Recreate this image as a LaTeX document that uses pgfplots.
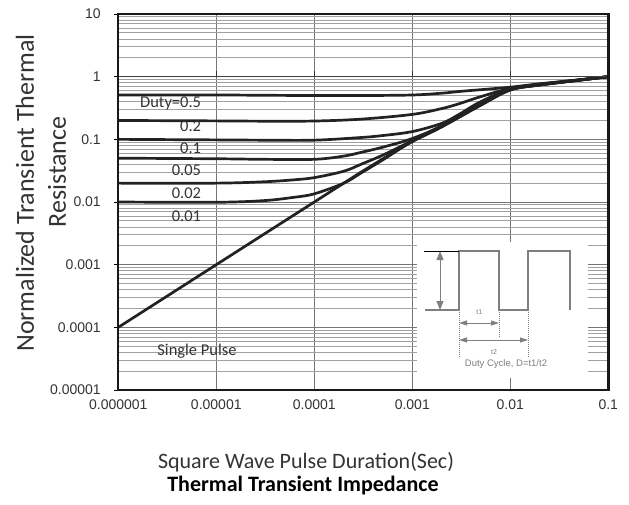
\documentclass[border=0pt]{standalone}
\usepackage{pgfplots}
\pgfplotsset{compat=1.18}
\usepackage{fontspec}
\setmainfont{Carlito}
\newfontfamily\arialf{Liberation Sans}
\usetikzlibrary{arrows.meta}
\definecolor{txt}{HTML}{333333}
\definecolor{curve}{HTML}{222222}
\definecolor{gmaj}{HTML}{767676}
\definecolor{gmin}{HTML}{A0A0A0}
\definecolor{wave}{HTML}{7F7F7F}
\pgfplotsset{curv/.style={color=curve, mark=none, line width=2.7pt, smooth, tension=0.55, line join=round}}
\begin{document}
\begin{tikzpicture}
\useasboundingbox (-118.3pt,-114pt) rectangle (510.7pt,390pt);
\begin{axis}[
  at={(0,0)}, anchor=south west, scale only axis,
  width=490pt, height=376pt,
  xmode=log, ymode=log,
  xmin=1e-6, xmax=0.1, ymin=1e-5, ymax=10,
  xtick={1e-6,1e-5,1e-4,1e-3,1e-2,1e-1},
  xticklabels={0.000001,0.00001,0.0001,0.001,0.01,0.1},
  ytick={1e-5,1e-4,1e-3,1e-2,1e-1,1,10},
  yticklabels={0.00001,0.0001,0.001,0.01,0.1,1,10},
  minor ytick={2e-5,3e-5,4e-5,5e-5,6e-5,7e-5,8e-5,9e-5,
               2e-4,3e-4,4e-4,5e-4,6e-4,7e-4,8e-4,9e-4,
               2e-3,3e-3,4e-3,5e-3,6e-3,7e-3,8e-3,9e-3,
               2e-2,3e-2,4e-2,5e-2,6e-2,7e-2,8e-2,9e-2,
               0.2,0.3,0.4,0.5,0.6,0.7,0.8,0.9,
               2,3,4,5,6,7,8,9},
  xmajorgrids, ymajorgrids, yminorgrids, xminorgrids=false,
  major grid style={color=gmaj, line width=0.9pt},
  minor grid style={color=gmin, line width=0.8pt},
  xtick style={draw=none},
  minor tick length=0pt,
  ytick pos=left,
  ytick style={color=black, line width=0.8pt},
  tick align=outside, major tick length=4pt,
  axis line style={draw=none},
  /pgf/number format/assume math mode=true,
  ticklabel style={font=\arialf\fontsize{14}{14}\selectfont, text=txt},
  xticklabel style={yshift=-2pt},
  yticklabel style={xshift=-10pt},
  clip=true,
]
% Duty = 0.5
\addplot[curv] coordinates {(1e-6,0.51) (1e-5,0.51) (3e-5,0.505) (1e-4,0.50) (3e-4,0.50) (1e-3,0.51) (2e-3,0.545) (3e-3,0.58) (5e-3,0.62) (1e-2,0.68) (2e-2,0.77) (5e-2,0.89) (1e-1,1.0)};
% Duty = 0.2
\addplot[curv] coordinates {(1e-6,0.20) (1e-5,0.197) (3e-5,0.195) (1e-4,0.196) (3e-4,0.21) (1e-3,0.25) (2e-3,0.31) (3e-3,0.37) (5e-3,0.48) (1e-2,0.65) (2e-2,0.76) (5e-2,0.89) (1e-1,1.0)};
% Duty = 0.1
\addplot[curv] coordinates {(1e-6,0.10) (1e-5,0.098) (3e-5,0.097) (1e-4,0.097) (3e-4,0.107) (5e-4,0.115) (1e-3,0.133) (2e-3,0.18) (3e-3,0.25) (5e-3,0.40) (1e-2,0.63) (2e-2,0.75) (5e-2,0.88) (1e-1,1.0)};
% Duty = 0.05
\addplot[curv] coordinates {(1e-6,0.05) (1e-5,0.049) (3e-5,0.048) (1e-4,0.048) (2e-4,0.054) (3e-4,0.062) (5e-4,0.075) (1e-3,0.103) (2e-3,0.165) (5e-3,0.37) (1e-2,0.62) (2e-2,0.74) (5e-2,0.88) (1e-1,1.0)};
% Duty = 0.02
\addplot[curv] coordinates {(1e-6,0.02) (1e-5,0.02) (3e-5,0.021) (6e-5,0.0225) (1e-4,0.0245) (2e-4,0.031) (3e-4,0.04) (5e-4,0.056) (1e-3,0.095) (2e-3,0.162) (5e-3,0.36) (1e-2,0.62) (2e-2,0.74) (5e-2,0.88) (1e-1,1.0)};
% Duty = 0.01
\addplot[curv] coordinates {(1e-6,0.01) (1e-5,0.0099) (3e-5,0.0105) (6e-5,0.0118) (1e-4,0.0135) (2e-4,0.02) (3e-4,0.029) (5e-4,0.047) (1e-3,0.093) (2e-3,0.16) (5e-3,0.355) (1e-2,0.62) (2e-2,0.74) (5e-2,0.88) (1e-1,1.0)};
% Single pulse
\addplot[curv, sharp plot] coordinates {(1e-6,1e-4) (1e-5,1e-3) (1e-4,1e-2) (3e-4,0.03) (6e-4,0.058)};
\addplot[curv] coordinates {(6e-4,0.058) (1e-3,0.092) (2e-3,0.158) (5e-3,0.35) (1e-2,0.61) (2e-2,0.735) (5e-2,0.875) (1e-1,1.0)};
\end{axis}
% darker line at y = 1 (x axis crossing) with small ticks
\draw[black!75, line width=1pt] (0,313.5pt) -- (490pt,313.5pt);
\foreach \xx in {98,195.8,293.8,391.8} {\draw[black!80, line width=1pt] (\xx pt,313.5pt) -- ++(0,5pt);}
% frame
\draw[black!90, line width=2.4pt] (0,0) rectangle (490pt,376pt);
% inset white box
\fill[white] (298.4pt,12pt) rectangle (470pt,148.3pt);
\draw[gmaj, line width=0.9pt] (391.8pt,1.2pt) -- (391.8pt,12pt);
% square wave
\draw[wave, line width=1.8pt] (306.7pt,80pt) -- (340.7pt,80pt) -- (340.7pt,139pt) -- (380.7pt,139pt) -- (380.7pt,80pt) -- (409.7pt,80pt) -- (409.7pt,139pt) -- (451.7pt,139pt) -- (451.7pt,80pt);
\draw[black, line width=0.8pt] (305.7pt,139pt) -- (340.7pt,139pt);
\draw[wave, line width=0.8pt, {Triangle[length=9pt,width=7pt]}-{Triangle[length=9pt,width=7pt]}] (321.7pt,139pt) -- (321.7pt,80pt);
\draw[wave, line width=0.5pt, dash pattern=on 1pt off 1pt] (340.7pt,80pt) -- (340.7pt,32pt);
\draw[wave, line width=0.5pt, dash pattern=on 1pt off 1pt] (380.7pt,80pt) -- (380.7pt,53pt);
\draw[wave, line width=0.5pt, dash pattern=on 1pt off 1pt] (409.7pt,80pt) -- (409.7pt,32pt);
\draw[wave, line width=0.8pt, {Triangle[length=8pt,width=5pt]}-{Triangle[length=8pt,width=5pt]}] (340.7pt,67pt) -- (380.7pt,67pt);
\draw[wave, line width=0.8pt, {Triangle[length=8pt,width=5pt]}-{Triangle[length=8pt,width=5pt]}] (340.7pt,50pt) -- (409.7pt,50pt);
\node[text=wave, font=\arialf\fontsize{7}{7}\selectfont] at (361pt,78pt) {t1};
\node[text=wave, font=\arialf\fontsize{7}{7}\selectfont] at (375.7pt,38pt) {t2};
\node[text=wave, font=\arialf\fontsize{9.5}{9.5}\selectfont] at (387.7pt,26pt) {Duty Cycle, D=t1/t2};
% curve labels
\begin{scope}[every node/.style={anchor=east, text=txt, font=\fontsize{16.5}{16.5}\selectfont, inner sep=0pt}]
\node at (83pt,287pt) {Duty=0.5};
\node at (83pt,264pt) {0.2};
\node at (83pt,242pt) {0.1};
\node at (83pt,220pt) {0.05};
\node at (83pt,197pt) {0.02};
\node at (83pt,174pt) {0.01};
\end{scope}
\node[anchor=center, text=txt, font=\fontsize{16.5}{16.5}\selectfont, inner sep=0pt] at (78.7pt,39pt) {Single Pulse};
% axis titles
\node[rotate=90, text=txt, font=\fontsize{26}{26}\selectfont, inner sep=0pt] at (-93.3pt,197pt) {Normalized Transient Thermal};
\node[rotate=90, text=txt, font=\fontsize{26}{26}\selectfont, inner sep=0pt] at (-61.3pt,218pt) {Resistance};
\node[text=txt, font=\fontsize{22}{22}\selectfont, inner sep=0pt] at (187.7pt,-72pt) {Square Wave Pulse Duration(Sec)};
\node[text=black, font=\bfseries\fontsize{22}{22}\selectfont, inner sep=0pt] at (184.7pt,-96pt) {Thermal Transient Impedance};
\end{tikzpicture}
\end{document}
